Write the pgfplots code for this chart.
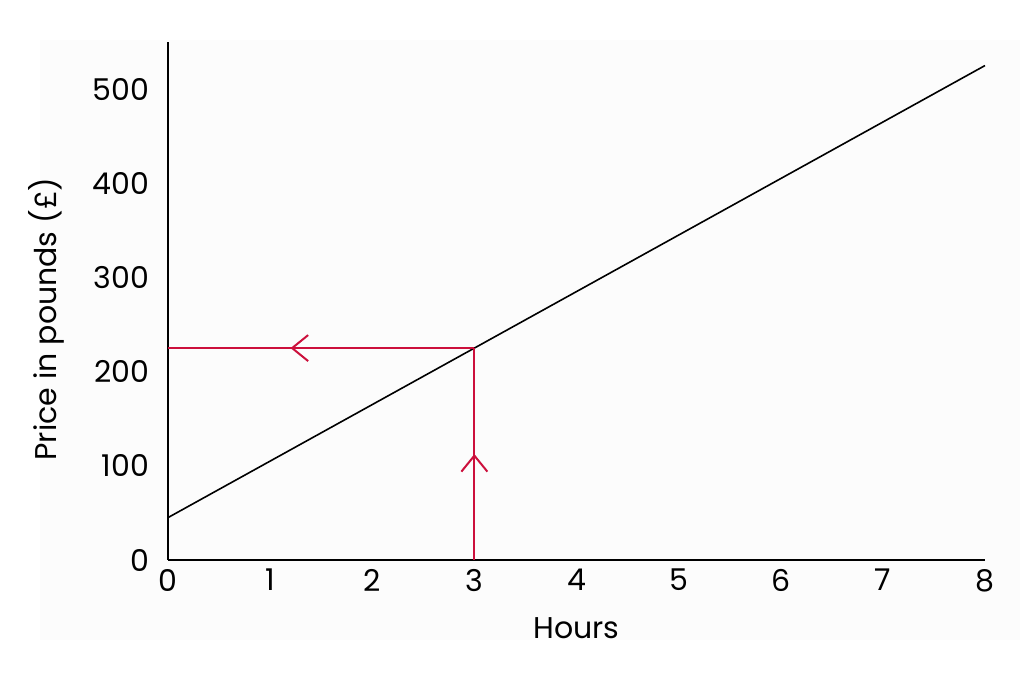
\documentclass[border=0pt]{standalone}
\usepackage{fontspec}
\setmainfont{Poppins}
\usepackage{pgfplots}
\pgfplotsset{compat=1.18}
\usetikzlibrary{arrows.meta,decorations.markings}
\definecolor{redarrow}{RGB}{204,16,60}
\begin{document}
\begin{tikzpicture}
\fill[black!1] (-64pt,-40pt) rectangle (426pt,260pt);
\begin{axis}[
  name=ax,
  scale only axis,
  width=408.5pt, height=259pt,
  xmin=0, xmax=8, ymin=0, ymax=550,
  axis lines=left,
  axis line style={line width=1pt,-},
  xtick={0,1,...,8},
  ytick={0,100,...,500},
  major tick length=0pt,
  /pgf/number format/assume math mode=true,
  tick label style={font=\fontsize{15}{18}\selectfont},
  xticklabel style={yshift=-1pt},
  yticklabel style={xshift=-6pt},
  xlabel={Hours},
  ylabel={Price in pounds (£)},
  label style={font=\fontsize{15}{18}\selectfont},
  xlabel style={yshift=-6pt},
  ylabel style={yshift=7pt, xshift=-9pt},
  clip=false,
]
\addplot[black, line width=0.8pt] coordinates {(0,45) (8,525)};
\addplot[redarrow, line width=1pt,
  postaction={decorate},
  decoration={markings, mark=at position 0.5 with {\arrow{Straight Barb[length=8pt,width=13pt,line width=1pt]}}}]
  coordinates {(3,0) (3,225)};
\addplot[redarrow, line width=1pt,
  postaction={decorate},
  decoration={markings, mark=at position 0.6 with {\arrow{Straight Barb[length=8pt,width=13pt,line width=1pt]}}}]
  coordinates {(3,225) (0,225)};
\end{axis}
\useasboundingbox (-84pt,-59pt) rectangle (432.5pt,280pt);
\end{tikzpicture}
\end{document}
